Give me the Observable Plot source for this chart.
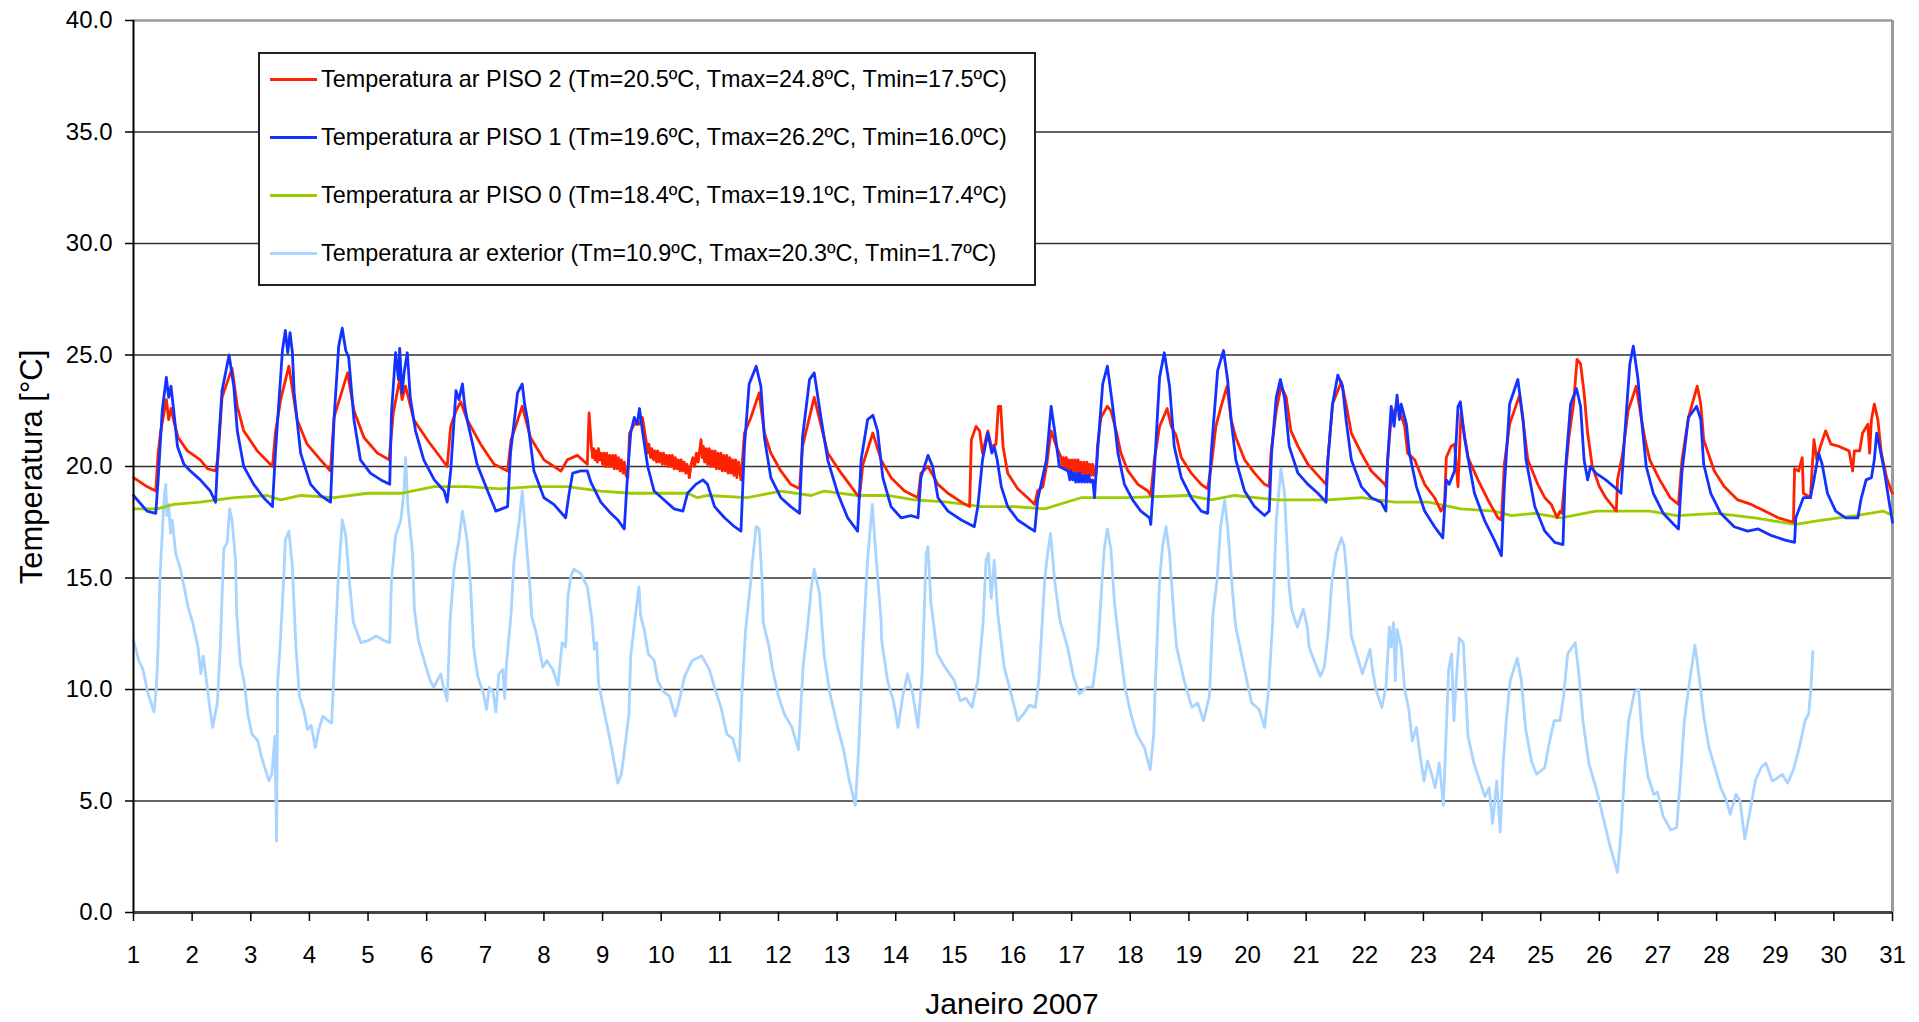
<!DOCTYPE html>
<html>
<head>
<meta charset="utf-8">
<script src="https://cdn.jsdelivr.net/npm/d3@7"></script>
<script src="https://cdn.jsdelivr.net/npm/@observablehq/plot@0.6"></script>
<style>
  html, body { margin: 0; padding: 0; background: #fff; }
  #wrap { position: relative; width: 1919px; height: 1022px; overflow: hidden;
          font-family: "Liberation Sans", Arial, sans-serif; color: #000; }
  #legend { position: absolute; left: 258px; top: 52px; width: 778px; height: 234px;
            box-sizing: border-box; border: 2px solid #222; background: #fff; }
  .sw { position: absolute; left: 10px; width: 47px; height: 3px; }
  .lt { position: absolute; left: 61px; font-size: 23.4px; line-height: 30px; white-space: nowrap; }
</style>
</head>
<body>
<div id="wrap"></div>
<script>
// ---------------- DATA ----------------
const days = d3.range(1, 32);
const yTicks = [0, 5, 10, 15, 20, 25, 30, 35, 40];
const gridValues = [5, 10, 15, 20, 25, 30, 35];

const seriesNames = [
  "Temperatura ar PISO 2 (Tm=20.5ºC, Tmax=24.8ºC, Tmin=17.5ºC)",
  "Temperatura ar PISO 1 (Tm=19.6ºC, Tmax=26.2ºC, Tmin=16.0ºC)",
  "Temperatura ar PISO 0 (Tm=18.4ºC, Tmax=19.1ºC, Tmin=17.4ºC)",
  "Temperatura ar exterior (Tm=10.9ºC, Tmax=20.3ºC, Tmin=1.7ºC)"
];
const seriesColors = ["#ff2200", "#1432ff", "#9ccc00", "#a8d4ff"];

// [day of January, temperature ºC]
const piso2 = [
[1.0,19.5],[1.23,19.1],[1.38,18.9],[1.42,20.6],[1.46,21.5],[1.56,23.0],[1.60,22.1],[1.64,22.6],[1.70,21.9],[1.76,21.3],[1.92,20.7],[2.14,20.3],[2.26,19.9],[2.40,19.8],[2.44,20.4],[2.51,23.1],[2.68,24.4],[2.77,22.7],[2.88,21.6],[3.11,20.7],[3.37,20.0],[3.42,21.5],[3.51,23.0],[3.65,24.5],[3.79,22.1],[3.96,21.0],[4.19,20.3],[4.36,19.8],[4.42,22.2],[4.65,24.2],[4.76,22.5],[4.93,21.3],[5.16,20.6],[5.36,20.3],[5.43,22.4],[5.54,23.9],[5.58,23.0],[5.64,23.6],[5.78,22.1],[6.01,21.2],[6.35,20.0],[6.41,21.8],[6.50,22.5],[6.58,22.9],[6.69,22.1],[6.92,21.0],[7.15,20.1],[7.38,19.8],[7.44,21.2],[7.63,22.7],[7.77,21.3],[8.00,20.3],[8.29,19.8],[8.40,20.3],[8.57,20.5],[8.74,20.1],[8.77,22.4],
[8.81,20.9],[8.83,20.4],[8.85,20.8],[8.87,20.3],[8.89,20.7],[8.91,20.2],[8.93,20.8],[8.95,20.3],[8.97,20.6],[9.00,20.1],[9.02,20.6],[9.05,20.0],[9.07,20.6],[9.10,20.0],[9.12,20.5],[9.15,20.0],[9.17,20.5],[9.20,19.9],[9.22,20.5],[9.25,19.9],[9.27,20.4],[9.30,19.8],[9.32,20.3],[9.35,19.7],[9.37,20.2],[9.40,19.6],[9.43,19.5],
[9.46,21.5],[9.54,21.9],[9.63,21.9],[9.68,22.2],
[9.74,21.2],[9.77,20.6],[9.79,21.0],[9.82,20.4],[9.84,20.8],[9.87,20.3],[9.89,20.7],[9.92,20.2],[9.94,20.7],[9.97,20.2],[9.99,20.6],[10.02,20.1],[10.04,20.6],[10.07,20.1],[10.09,20.5],[10.12,20.0],[10.14,20.5],[10.17,20.0],[10.19,20.5],[10.22,19.9],[10.24,20.4],[10.27,19.9],[10.29,20.3],[10.32,19.8],[10.34,20.3],[10.37,19.8],[10.39,20.2],[10.42,19.7],[10.44,20.1],[10.48,19.5],
[10.51,20.1],[10.54,20.4],[10.57,20.0],[10.60,20.6],[10.63,20.2],[10.66,20.8],[10.68,21.2],[10.70,20.4],[10.72,20.9],[10.74,20.2],[10.77,20.8],[10.79,20.1],[10.82,20.8],[10.84,20.0],[10.87,20.7],[10.89,20.0],[10.92,20.7],[10.94,19.9],[10.97,20.6],[10.99,19.9],[11.02,20.6],[11.04,19.8],[11.07,20.5],[11.09,19.8],[11.12,20.5],[11.14,19.7],[11.17,20.4],[11.19,19.7],[11.22,20.3],[11.24,19.6],[11.27,20.3],[11.29,19.5],[11.32,20.2],[11.36,19.4],
[11.42,21.5],[11.53,22.2],[11.67,23.3],[11.76,21.5],[11.87,20.6],[12.04,19.8],[12.21,19.2],[12.36,19.0],[12.41,20.9],[12.61,23.1],[12.73,21.8],[12.84,20.6],[13.07,19.7],[13.24,19.1],[13.38,18.6],[13.44,20.1],[13.61,21.5],[13.75,20.3],[13.92,19.5],[14.15,18.9],[14.38,18.6],[14.43,19.7],[14.55,20.0],[14.72,19.2],[14.89,18.8],[15.12,18.4],[15.26,18.2],[15.29,21.2],[15.37,21.8],[15.43,21.6],[15.48,20.6],[15.57,21.6],[15.63,20.9],[15.71,21.0],[15.75,22.7],[15.79,22.7],[15.83,20.9],[15.91,19.7],[16.08,19.0],[16.25,18.6],[16.37,18.3],[16.42,18.9],[16.51,19.1],[16.57,20.0],[16.65,21.6],[16.74,20.9],
[16.82,20.4],[16.84,20.0],[16.86,20.4],[16.89,19.9],[16.91,20.4],[16.94,19.8],[16.96,20.3],[16.99,19.8],[17.01,20.3],[17.04,19.8],[17.06,20.3],[17.09,19.7],[17.11,20.3],[17.14,19.7],[17.16,20.2],[17.19,19.7],[17.21,20.2],[17.24,19.6],[17.26,20.2],[17.29,19.6],[17.31,20.1],[17.34,19.6],[17.36,20.1],[17.39,19.6],[17.42,19.7],
[17.44,20.9],[17.50,22.2],[17.61,22.7],[17.67,22.5],[17.76,21.6],[17.84,20.6],[17.96,19.8],[18.13,19.2],[18.30,18.9],[18.35,18.7],[18.41,20.3],[18.50,21.8],[18.63,22.6],[18.70,21.8],[18.78,21.4],[18.87,20.4],[19.04,19.7],[19.21,19.2],[19.32,19.0],[19.38,20.0],[19.46,21.8],[19.55,22.7],[19.65,23.6],[19.72,22.1],[19.80,21.3],[19.95,20.3],[20.12,19.7],[20.29,19.2],[20.37,19.1],[20.40,20.6],[20.49,22.5],[20.57,23.6],[20.66,23.1],[20.74,21.6],[20.86,20.9],[21.03,20.1],[21.20,19.6],[21.34,19.2],[21.37,20.3],[21.45,22.8],[21.60,23.8],[21.68,22.8],[21.77,21.5],[21.94,20.6],[22.11,19.8],[22.34,19.2],[22.36,19.1],[22.39,20.3],[22.45,22.2],[22.56,22.8],[22.68,21.8],[22.73,20.6],[22.85,20.3],[23.02,19.2],[23.19,18.6],[23.30,18.0],[23.36,18.3],[23.39,20.4],[23.47,20.9],[23.53,21.0],[23.59,19.1],[23.64,22.4],[23.76,20.4],[23.93,19.4],[24.10,18.5],[24.27,17.7],[24.33,17.6],[24.38,20.1],[24.47,21.9],[24.64,23.2],[24.72,21.6],[24.78,20.3],[24.95,19.2],[25.07,18.6],[25.18,18.3],[25.28,17.7],[25.33,18.0],[25.36,17.9],[25.39,18.8],[25.48,21.3],[25.56,22.8],[25.62,24.8],[25.68,24.6],[25.74,23.3],[25.80,21.5],[25.88,20.0],[26.00,19.1],[26.11,18.6],[26.23,18.2],[26.29,18.0],[26.31,19.4],[26.40,20.6],[26.49,22.5],[26.63,23.6],[26.72,22.1],[26.78,21.2],[26.86,20.3],[27.03,19.4],[27.21,18.6],[27.35,18.3],[27.41,20.3],[27.52,22.2],[27.67,23.6],[27.73,22.8],[27.78,21.2],[27.96,19.8],[28.13,19.1],[28.36,18.5],[28.59,18.3],[28.82,18.0],[29.05,17.7],[29.31,17.5],[29.33,19.9],[29.40,19.8],[29.46,20.4],[29.48,18.8],[29.60,18.6],[29.66,21.2],[29.71,20.3],[29.77,20.9],[29.86,21.6],[29.95,21.0],[30.09,20.9],[30.26,20.7],[30.32,19.8],[30.35,20.7],[30.44,20.7],[30.49,21.5],[30.58,21.9],[30.61,20.6],[30.64,22.1],[30.69,22.8],[30.75,22.1],[30.81,20.6],[30.90,19.5],[30.98,18.9],[31.0,18.8]
];

const piso1 = [
[1.0,18.7],[1.23,18.0],[1.38,17.9],[1.42,19.4],[1.49,22.5],[1.56,24.0],[1.60,23.1],[1.64,23.6],[1.69,22.4],[1.75,20.9],[1.86,20.1],[1.97,19.8],[2.14,19.4],[2.31,18.9],[2.40,18.4],[2.44,20.6],[2.51,23.4],[2.63,25.0],[2.71,23.6],[2.77,21.6],[2.88,20.0],[3.05,19.2],[3.22,18.6],[3.37,18.2],[3.42,20.6],[3.54,25.2],[3.59,26.1],[3.63,25.1],[3.67,26.0],[3.71,25.1],[3.74,23.3],[3.85,20.6],[4.02,19.2],[4.19,18.7],[4.36,18.4],[4.42,22.1],[4.50,25.4],[4.56,26.2],[4.62,25.2],[4.67,24.9],[4.76,22.1],[4.87,20.3],[5.04,19.7],[5.22,19.4],[5.37,19.2],[5.40,22.4],[5.47,25.1],[5.52,23.9],[5.54,25.3],[5.58,23.3],[5.62,24.3],[5.67,25.1],[5.72,23.1],[5.81,21.6],[5.95,20.3],[6.13,19.4],[6.30,18.9],[6.35,18.4],[6.41,19.8],[6.50,23.4],[6.55,23.0],[6.61,23.7],[6.65,22.7],[6.69,22.1],[6.86,20.1],[7.04,18.9],[7.18,18.0],[7.38,18.2],[7.43,20.6],[7.55,23.3],[7.63,23.7],[7.67,22.8],[7.72,22.1],[7.83,19.8],[8.00,18.6],[8.17,18.3],[8.37,17.7],[8.43,18.8],[8.49,19.7],[8.63,19.8],[8.74,19.8],[8.80,19.3],[8.97,18.4],[9.14,17.9],[9.26,17.6],[9.37,17.2],[9.43,19.8],[9.48,21.5],[9.54,22.2],[9.59,21.9],[9.63,22.6],[9.68,21.6],[9.77,20.0],[9.88,18.9],[10.05,18.5],[10.22,18.1],[10.37,18.0],[10.45,18.8],[10.59,19.2],[10.71,19.4],[10.79,19.2],[10.91,18.2],[11.08,17.7],[11.25,17.3],[11.36,17.1],[11.42,20.9],[11.50,23.7],[11.62,24.5],[11.70,23.6],[11.76,21.3],[11.87,19.5],[12.04,18.6],[12.21,18.2],[12.36,17.9],[12.41,21.3],[12.53,23.9],[12.61,24.2],[12.73,22.1],[12.84,20.3],[13.01,18.8],[13.18,17.7],[13.35,17.1],[13.41,20.3],[13.52,22.1],[13.61,22.3],[13.69,21.6],[13.78,19.5],[13.92,18.2],[14.09,17.7],[14.26,17.8],[14.38,17.7],[14.43,19.5],[14.55,20.5],[14.63,20.0],[14.72,18.6],[14.89,18.0],[15.12,17.6],[15.34,17.3],[15.40,18.2],[15.48,20.3],[15.57,21.5],[15.64,20.6],[15.68,20.9],[15.73,20.3],[15.80,19.1],[15.91,18.2],[16.08,17.6],[16.25,17.3],[16.37,17.1],[16.42,18.5],[16.57,20.3],[16.65,22.7],[16.71,21.6],[16.79,20.0],
[16.94,19.8],[16.97,19.4],[16.99,19.8],[17.02,19.4],[17.04,19.7],[17.07,19.3],[17.09,19.7],[17.12,19.3],[17.14,19.7],[17.17,19.3],[17.19,19.6],[17.22,19.3],[17.24,19.6],[17.27,19.3],[17.29,19.6],[17.32,19.3],[17.36,19.4],
[17.39,18.6],[17.44,20.6],[17.53,23.7],[17.61,24.5],[17.70,22.7],[17.79,20.6],[17.90,19.2],[18.04,18.5],[18.18,18.0],[18.33,17.7],[18.35,17.4],[18.41,19.8],[18.50,24.0],[18.58,25.1],[18.67,23.6],[18.75,20.9],[18.87,19.5],[19.04,18.6],[19.21,18.0],[19.32,17.9],[19.38,20.6],[19.49,24.3],[19.59,25.2],[19.66,23.9],[19.72,22.1],[19.80,20.3],[19.95,18.9],[20.12,18.2],[20.29,17.8],[20.37,18.0],[20.41,20.6],[20.49,23.1],[20.56,23.9],[20.63,23.1],[20.71,20.9],[20.86,19.7],[21.03,19.2],[21.20,18.8],[21.34,18.4],[21.37,20.3],[21.45,22.8],[21.54,24.1],[21.62,23.6],[21.68,22.1],[21.77,20.3],[21.94,19.1],[22.11,18.6],[22.28,18.4],[22.36,18.0],[22.39,20.3],[22.45,22.7],[22.50,21.8],[22.55,23.2],[22.59,22.1],[22.62,22.8],[22.71,21.9],[22.76,20.6],[22.88,19.1],[23.02,18.0],[23.19,17.3],[23.33,16.8],[23.39,19.4],[23.44,19.2],[23.53,19.8],[23.59,22.7],[23.63,22.9],[23.70,21.3],[23.76,20.4],[23.87,18.8],[24.04,17.6],[24.21,16.7],[24.33,16.0],[24.38,19.1],[24.47,22.8],[24.61,23.9],[24.70,22.1],[24.75,20.3],[24.90,18.2],[25.07,17.1],[25.24,16.6],[25.38,16.5],[25.42,19.8],[25.51,22.8],[25.61,23.5],[25.68,22.7],[25.74,20.3],[25.80,19.4],[25.85,20.0],[25.94,19.7],[26.11,19.4],[26.29,19.0],[26.37,18.8],[26.43,21.3],[26.52,24.6],[26.58,25.4],[26.66,23.9],[26.72,22.1],[26.80,20.0],[26.92,18.8],[27.09,17.9],[27.27,17.4],[27.35,17.2],[27.41,19.8],[27.52,22.2],[27.66,22.7],[27.73,22.1],[27.78,20.1],[27.90,18.8],[28.07,17.9],[28.30,17.3],[28.53,17.1],[28.71,17.2],[28.94,16.9],[29.17,16.7],[29.33,16.6],[29.35,17.7],[29.48,18.6],[29.60,18.6],[29.66,19.4],[29.74,20.6],[29.80,20.1],[29.89,18.8],[30.03,18.0],[30.20,17.7],[30.41,17.7],[30.46,18.5],[30.55,19.4],[30.64,19.5],[30.69,20.3],[30.73,21.5],[30.78,20.9],[30.86,19.8],[30.95,18.3],[31.0,17.5]
];

const piso0 = [
[1.0,18.1],[1.40,18.1],[1.69,18.3],[2.14,18.4],[2.71,18.6],[3.28,18.7],[3.51,18.5],[3.85,18.7],[4.42,18.6],[4.99,18.8],[5.56,18.8],[6.13,19.1],[6.69,19.1],[7.26,19.0],[7.83,19.1],[8.40,19.1],[8.97,18.9],[9.48,18.8],[10.45,18.8],[10.62,18.6],[10.79,18.7],[11.47,18.6],[12.04,18.9],[12.56,18.7],[12.78,18.9],[13.35,18.7],[13.86,18.7],[14.32,18.5],[14.89,18.4],[15.46,18.2],[16.03,18.2],[16.54,18.1],[17.16,18.6],[17.39,18.6],[17.96,18.6],[18.98,18.7],[19.38,18.5],[19.78,18.7],[20.52,18.5],[21.37,18.5],[21.94,18.6],[22.51,18.4],[23.08,18.4],[23.64,18.1],[24.21,18.0],[24.50,17.8],[24.90,17.9],[25.35,17.7],[25.94,18.0],[26.63,18.0],[26.86,18.0],[27.32,17.8],[28.01,17.9],[28.65,17.7],[29.34,17.4],[29.80,17.6],[30.38,17.8],[30.84,18.0],[31.0,17.8]
];

const exterior = [
[1.0,12.2],[1.09,11.3],[1.16,10.9],[1.25,9.8],[1.35,9.0],[1.39,10.1],[1.42,11.9],[1.45,14.9],[1.50,17.5],[1.53,18.8],[1.55,19.2],[1.57,17.8],[1.60,18.3],[1.63,17.0],[1.66,17.6],[1.72,16.1],[1.79,15.5],[1.84,14.9],[1.94,13.6],[2.01,13.0],[2.10,11.9],[2.15,10.7],[2.19,11.5],[2.23,10.7],[2.30,9.2],[2.35,8.3],[2.43,9.4],[2.48,11.9],[2.52,14.9],[2.54,16.3],[2.60,16.6],[2.64,18.1],[2.68,17.6],[2.74,15.8],[2.76,13.4],[2.82,11.2],[2.89,10.3],[2.95,8.9],[3.02,8.0],[3.12,7.7],[3.18,7.0],[3.25,6.4],[3.31,5.9],[3.36,6.2],[3.41,7.9],[3.44,3.2],[3.46,10.4],[3.50,11.9],[3.56,14.9],[3.59,16.7],[3.65,17.1],[3.71,15.5],[3.77,11.9],[3.83,9.7],[3.90,9.1],[3.97,8.2],[4.03,8.4],[4.10,7.4],[4.16,8.2],[4.23,8.8],[4.32,8.6],[4.38,8.5],[4.42,10.9],[4.49,14.9],[4.56,17.6],[4.62,16.9],[4.68,14.9],[4.75,13.0],[4.88,12.1],[5.01,12.2],[5.14,12.4],[5.27,12.2],[5.37,12.1],[5.40,14.9],[5.47,16.9],[5.56,17.6],[5.61,18.8],[5.64,20.4],[5.68,18.2],[5.76,16.1],[5.79,13.6],[5.86,12.2],[5.99,11.0],[6.06,10.4],[6.12,10.1],[6.24,10.7],[6.28,10.2],[6.35,9.5],[6.40,13.1],[6.47,15.5],[6.55,16.7],[6.61,18.0],[6.69,16.7],[6.75,14.6],[6.80,11.9],[6.87,10.6],[6.97,9.8],[7.02,9.1],[7.07,10.1],[7.13,9.9],[7.18,9.0],[7.23,10.7],[7.30,10.9],[7.33,9.6],[7.36,11.1],[7.44,13.4],[7.49,15.8],[7.58,17.6],[7.63,18.9],[7.69,16.9],[7.77,14.3],[7.79,13.3],[7.88,12.4],[7.98,11.0],[8.05,11.3],[8.15,10.9],[8.24,10.2],[8.31,12.1],[8.37,11.9],[8.41,14.2],[8.46,15.1],[8.51,15.4],[8.63,15.2],[8.74,14.6],[8.82,13.1],[8.86,11.8],[8.90,12.1],[8.93,10.3],[9.06,8.6],[9.16,7.3],[9.26,5.8],[9.32,6.2],[9.39,7.6],[9.45,8.9],[9.48,11.5],[9.55,13.1],[9.62,14.6],[9.65,13.3],[9.71,12.7],[9.78,11.6],[9.88,11.3],[9.94,10.4],[10.04,9.9],[10.14,9.7],[10.24,8.8],[10.30,9.4],[10.40,10.6],[10.53,11.3],[10.69,11.5],[10.82,10.9],[10.92,10.0],[11.02,9.2],[11.12,8.0],[11.22,7.8],[11.33,6.8],[11.38,10.0],[11.44,12.7],[11.53,14.9],[11.55,15.6],[11.62,17.3],[11.67,17.2],[11.72,14.9],[11.74,13.0],[11.84,11.9],[11.90,10.9],[12.00,9.7],[12.10,8.9],[12.23,8.3],[12.34,7.3],[12.42,11.0],[12.52,13.4],[12.56,14.6],[12.61,15.4],[12.70,14.3],[12.78,11.5],[12.88,9.8],[13.01,8.3],[13.11,7.3],[13.21,5.9],[13.31,4.8],[13.37,7.4],[13.44,11.9],[13.50,14.9],[13.52,15.8],[13.60,18.3],[13.66,16.1],[13.75,13.1],[13.76,12.2],[13.86,10.4],[13.96,9.5],[14.04,8.3],[14.12,9.7],[14.20,10.7],[14.29,9.8],[14.38,8.3],[14.45,10.7],[14.52,16.1],[14.55,16.4],[14.60,13.9],[14.71,11.6],[14.84,11.0],[15.00,10.4],[15.10,9.5],[15.20,9.6],[15.30,9.2],[15.40,10.4],[15.49,13.0],[15.54,15.8],[15.58,16.1],[15.63,14.1],[15.68,15.8],[15.74,13.4],[15.85,11.0],[15.95,10.0],[16.08,8.6],[16.18,8.9],[16.28,9.3],[16.38,9.2],[16.44,10.4],[16.54,14.9],[16.59,16.1],[16.64,17.0],[16.71,14.9],[16.80,13.1],[16.93,11.9],[17.03,10.6],[17.13,9.8],[17.26,10.1],[17.36,10.1],[17.45,11.9],[17.52,14.9],[17.56,16.4],[17.61,17.2],[17.67,16.3],[17.73,13.9],[17.81,12.1],[17.91,10.1],[18.01,8.9],[18.11,8.0],[18.24,7.4],[18.34,6.4],[18.40,8.0],[18.43,10.4],[18.50,14.9],[18.55,16.4],[18.61,17.3],[18.67,16.1],[18.75,13.1],[18.79,11.9],[18.92,10.4],[19.05,9.2],[19.15,9.4],[19.25,8.6],[19.35,9.7],[19.41,13.4],[19.48,14.9],[19.54,17.3],[19.61,18.5],[19.66,17.3],[19.75,14.2],[19.80,12.8],[19.94,11.0],[20.07,9.4],[20.20,9.1],[20.29,8.3],[20.36,10.0],[20.43,13.1],[20.49,17.6],[20.57,19.9],[20.63,18.8],[20.71,14.6],[20.75,13.6],[20.85,12.8],[20.95,13.6],[21.02,12.8],[21.05,11.9],[21.15,11.2],[21.24,10.6],[21.31,11.0],[21.38,12.7],[21.44,14.9],[21.51,16.1],[21.60,16.8],[21.65,16.4],[21.71,14.6],[21.77,12.4],[21.86,11.6],[21.96,10.7],[22.09,11.8],[22.13,10.9],[22.19,10.0],[22.29,9.2],[22.36,10.1],[22.42,12.8],[22.45,11.9],[22.49,13.0],[22.52,10.4],[22.55,12.7],[22.62,11.9],[22.68,10.0],[22.75,9.1],[22.81,7.7],[22.88,8.3],[22.94,7.1],[23.01,5.9],[23.07,6.8],[23.14,6.2],[23.20,5.6],[23.27,6.7],[23.34,4.8],[23.39,8.2],[23.43,10.9],[23.48,11.6],[23.52,8.6],[23.56,10.4],[23.61,12.3],[23.68,12.1],[23.73,9.5],[23.76,7.9],[23.86,6.7],[23.96,5.9],[24.05,5.2],[24.12,5.6],[24.18,4.0],[24.25,5.9],[24.31,3.6],[24.36,6.7],[24.41,8.5],[24.48,10.4],[24.60,11.4],[24.67,10.4],[24.74,8.3],[24.84,6.8],[24.93,6.2],[25.07,6.5],[25.13,7.4],[25.23,8.6],[25.33,8.6],[25.39,9.7],[25.46,11.6],[25.59,12.1],[25.65,10.7],[25.72,8.6],[25.82,6.7],[25.92,5.8],[25.98,5.2],[26.08,4.1],[26.18,3.0],[26.31,1.8],[26.37,3.6],[26.44,6.7],[26.50,8.6],[26.60,9.9],[26.67,10.0],[26.73,7.9],[26.83,6.1],[26.93,5.3],[26.99,5.4],[27.09,4.3],[27.22,3.7],[27.32,3.8],[27.38,5.9],[27.45,8.6],[27.52,10.0],[27.63,12.0],[27.71,10.4],[27.78,8.8],[27.87,7.4],[27.97,6.5],[28.07,5.6],[28.17,5.0],[28.23,4.4],[28.33,5.3],[28.40,5.0],[28.48,3.3],[28.56,4.4],[28.66,5.9],[28.76,6.5],[28.84,6.7],[28.95,5.9],[29.02,6.0],[29.12,6.2],[29.21,5.8],[29.31,6.4],[29.41,7.4],[29.51,8.6],[29.57,8.9],[29.61,10.1],[29.64,11.7]
];

const xLabel = "Janeiro 2007";
const yLabel = "Temperatura [°C]";

// ---------------- CHART ----------------
const font = "'Liberation Sans', Arial, sans-serif";
const lineOpts = (color) => ({ x: d => d[0], y: d => d[1], stroke: color, strokeWidth: 2.8, strokeLinejoin: "round" });

const chart = Plot.plot({
  width: 1919,
  height: 1022,
  marginLeft: 133,
  marginRight: 27,
  marginTop: 20,
  marginBottom: 110,
  style: { fontFamily: font, background: "#fff", color: "#000", overflow: "visible" },
  x: { domain: [1, 31] },
  y: { domain: [0, 40] },
  marks: [
    Plot.ruleY(gridValues, { stroke: "#333", strokeWidth: 1.6 }),
    Plot.ruleY([40], { stroke: "#9a9a9a", strokeWidth: 2.5 }),
    Plot.ruleX([31], { stroke: "#9a9a9a", strokeWidth: 3 }),
    Plot.line(exterior, lineOpts(seriesColors[3])),
    Plot.line(piso0, lineOpts(seriesColors[2])),
    Plot.line(piso2, lineOpts(seriesColors[0])),
    Plot.line(piso1, lineOpts(seriesColors[1])),
    Plot.ruleY([0], { stroke: "#444", strokeWidth: 3 }),
    Plot.ruleX([1], { stroke: "#000", strokeWidth: 2 }),
    Plot.axisY({ ticks: yTicks, tickFormat: d => d.toFixed(1), tickSize: 8, tickPadding: 13,
                 fontSize: 24, label: null, stroke: "#000", strokeWidth: 1.5 }),
    Plot.axisX({ ticks: days, tickFormat: d => String(d), tickSize: 9, tickPadding: 24,
                 fontSize: 24, label: null, stroke: "#000", strokeWidth: 1.5 })
  ]
});

const wrap = document.getElementById("wrap");
wrap.appendChild(chart);

const svg = d3.select(chart);
svg.append("text")
  .attr("x", 1012).attr("y", 1014)
  .attr("text-anchor", "middle")
  .attr("font-size", 30).attr("font-family", font).attr("fill", "#000")
  .text(xLabel);
svg.append("text")
  .attr("transform", "translate(42,467) rotate(-90)")
  .attr("text-anchor", "middle")
  .attr("font-size", 31).attr("font-family", font).attr("fill", "#000")
  .text(yLabel);

// legend (inside plot area, white box)
const legend = document.createElement("div");
legend.id = "legend";
const rowY = [79, 137, 195, 253];
seriesNames.forEach((name, i) => {
  const cy = rowY[i] - 52 - 2;
  const sw = document.createElement("div");
  sw.className = "sw";
  sw.style.top = (cy - 1.5) + "px";
  sw.style.background = seriesColors[i];
  legend.appendChild(sw);
  const t = document.createElement("div");
  t.className = "lt";
  t.style.top = (cy - 15) + "px";
  t.textContent = name;
  legend.appendChild(t);
});
wrap.appendChild(legend);
</script>
</body>
</html>
